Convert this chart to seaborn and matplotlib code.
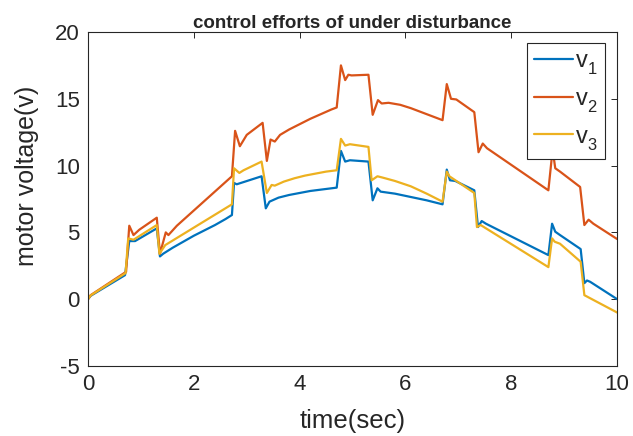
import pandas as pd
import matplotlib.pyplot as plt
import seaborn as sns

# --- Data ---
t_v1 = [0, 0.05, 0.70, 0.78, 0.89, 1.30, 1.36, 1.42, 1.6, 1.8, 2.0, 2.2, 2.4, 2.6, 2.72,
        2.76, 2.81, 3.28, 3.36, 3.43, 3.6, 3.8, 4.0, 4.2, 4.4, 4.70, 4.78, 4.86, 4.95, 5.30,
        5.38, 5.47, 5.53, 5.8, 6.1, 6.4, 6.70, 6.78, 6.84, 6.94, 7.30, 7.37, 7.44, 7.52, 8.70,
        8.77, 8.83, 8.92, 9.31, 9.38, 9.43, 9.49, 10.0]
v1 = [0, 0.25, 1.8, 4.35, 4.35, 5.3, 3.2, 3.4, 3.85, 4.3, 4.75, 5.15, 5.55, 6.0, 6.3,
      8.7, 8.6, 9.2, 6.8, 7.3, 7.6, 7.8, 7.95, 8.1, 8.2, 8.35, 11.1, 10.3, 10.4, 10.3,
      7.4, 8.3, 8.05, 7.9, 7.65, 7.4, 7.1, 9.7, 8.9, 8.85, 8.15, 5.4, 5.85, 5.65, 3.3,
      5.65, 5.05, 4.8, 3.75, 1.2, 1.4, 1.3, 0.0]

t_v2 = [0, 0.05, 0.72, 0.78, 0.86, 0.97, 1.30, 1.36, 1.47, 1.52, 1.68, 2.72, 2.78, 2.87, 3.00,
        3.30, 3.38, 3.45, 3.53, 3.63, 3.8, 4.0, 4.2, 4.4, 4.6, 4.70, 4.78, 4.86, 4.92, 4.98,
        5.30, 5.38, 5.48, 5.55, 5.68, 5.9, 6.1, 6.3, 6.5, 6.70, 6.78, 6.86, 6.96, 7.30, 7.38,
        7.46, 7.54, 8.70, 8.78, 8.83, 8.92, 9.30, 9.38, 9.46, 9.55, 10.0]
v2 = [0, 0.3, 2.05, 5.5, 4.8, 5.2, 6.1, 3.4, 5.0, 4.8, 5.5, 9.2, 12.6, 11.45, 12.3,
      13.2, 10.35, 11.95, 11.8, 12.3, 12.7, 13.1, 13.5, 13.85, 14.2, 14.35, 17.5, 16.4, 16.8, 16.75,
      16.8, 13.8, 14.9, 14.65, 14.7, 14.55, 14.3, 14.0, 13.7, 13.4, 16.1, 15.0, 14.95, 14.0, 11.0,
      11.65, 11.3, 8.15, 11.2, 9.8, 9.55, 8.4, 5.55, 5.95, 5.65, 4.5]

t_v3 = [0, 0.05, 0.71, 0.76, 0.86, 1.30, 1.35, 1.46, 2.72, 2.76, 2.86, 2.94, 3.28, 3.38, 3.47,
        3.53, 3.7, 3.9, 4.1, 4.3, 4.5, 4.70, 4.78, 4.86, 4.95, 5.30, 5.36, 5.47, 5.57, 5.8,
        6.1, 6.4, 6.70, 6.78, 6.83, 7.30, 7.35, 7.42, 8.70, 8.77, 8.82, 8.92, 9.31, 9.38, 10.0]
v3 = [0, 0.28, 1.95, 4.55, 4.45, 5.55, 3.4, 4.05, 7.1, 9.8, 9.45, 9.65, 10.3, 7.95, 8.55,
      8.5, 8.8, 9.05, 9.25, 9.4, 9.55, 9.65, 12.0, 11.5, 11.6, 11.4, 8.9, 9.2, 9.1, 8.85,
      8.45, 7.9, 7.3, 9.55, 9.2, 7.95, 5.4, 5.55, 2.4, 4.55, 4.3, 4.15, 2.8, 0.3, -1.0]

# empty superscript pushes the subscript lower, like the MATLAB legend
labels = ['$\\mathregular{v}_\\mathregular{1}^{}$',
          '$\\mathregular{v}_\\mathregular{2}^{}$',
          '$\\mathregular{v}_\\mathregular{3}^{}$']
colors = ['#0072BD', '#D95319', '#EDB120']

x_ticks = [0, 2, 4, 6, 8, 10]
y_ticks = [-5, 0, 5, 10, 15, 20]

# --- Long-form table for seaborn ---
frames = []
for t, v, lab in zip([t_v1, t_v2, t_v3], [v1, v2, v3], labels):
    frames.append(pd.DataFrame({'time': t, 'voltage': v, 'signal': lab}))
df = pd.concat(frames, ignore_index=True)

# --- Styling ---
sns.set_theme(style="white")
plt.rcParams['font.family'] = ['Liberation Sans', 'DejaVu Sans']
plt.rcParams['axes.unicode_minus'] = False

fig = plt.figure(figsize=(6.33, 4.36), dpi=100)
ax = fig.add_axes([0.139, 0.1606, 0.836, 0.766])

sns.lineplot(data=df, x='time', y='voltage', hue='signal', palette=colors,
             hue_order=labels, sort=False, estimator=None, lw=1.6, ax=ax)

ax.set_xlim(0, 10)
ax.set_ylim(-5, 20)
ax.set_xticks(x_ticks)
ax.set_yticks(y_ticks)
ax.tick_params(direction='in', top=True, right=True, length=4, width=0.7,
               color='#262626', labelsize=16, labelcolor='#262626', pad=6)
for s in ax.spines.values():
    s.set_color('#262626')
    s.set_linewidth(0.8)

ax.set_xlabel('time(sec)', fontsize=18.5, color='#262626')
ax.set_ylabel('motor voltage(v)', fontsize=18, color='#262626')
ax.xaxis.set_label_coords(0.5, -0.128)
ax.yaxis.set_label_coords(-0.093, 0.57)
ax.set_title('control efforts of under disturbance', fontsize=13.5, fontweight='bold', pad=3)

leg = ax.legend(loc='upper right', bbox_to_anchor=(0.977, 0.967), borderaxespad=0,
                fontsize=17, frameon=True, fancybox=False, framealpha=1, edgecolor='#262626',
                handlelength=1.65, labelspacing=0.5, borderpad=0.3, handletextpad=0.12)
leg.get_frame().set_linewidth(0.8)
leg.set_zorder(5)

plt.savefig('out.png', dpi=100)
